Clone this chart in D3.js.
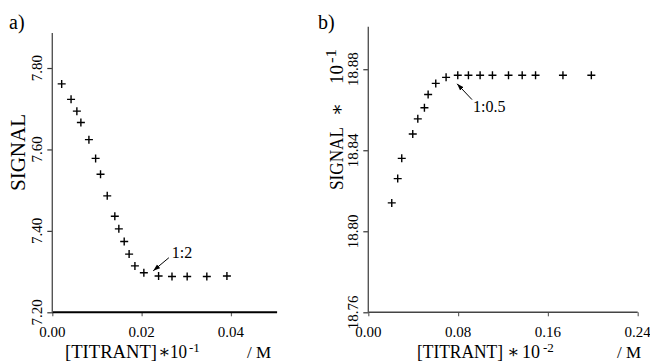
<!DOCTYPE html>
<html><head><meta charset="utf-8">
<script src="https://cdn.jsdelivr.net/npm/d3@7"></script>
<style>
body{margin:0;background:#fff}
svg{display:block}
</style>
</head><body>
<svg id="c" width="650" height="362" font-family="'Liberation Serif', 'DejaVu Serif', serif"></svg>
<script>
const FONT = "'Liberation Serif', 'DejaVu Serif', serif";
// ---- Panel a data ----
const aX = [0.0021,0.0042,0.0055,0.0064,0.0082,0.0097,0.0108,0.0123,0.0140,0.0149,0.0161,0.0172,0.0185,0.0205,0.0238,0.0268,0.0302,0.0346,0.0391];
const aY = [7.761,7.723,7.694,7.666,7.624,7.578,7.539,7.486,7.436,7.405,7.374,7.343,7.314,7.297,7.289,7.288,7.288,7.288,7.289];
const aXTicks = [0, 0.02, 0.04];
const aXTickLabels = ["0.00", "0.02", "0.04"];
const aYTicks = [7.20, 7.40, 7.60, 7.80];
const aYTickLabels = ["7.20", "7.40", "7.60", "7.80"];
const aXDomain = [0, 0.05];
const aYDomain = [7.20, 7.886];
const aNote = {text: "1:2", x: 0.0226, y: 7.302, tx: 0.0261, ty: 7.334};

// ---- Panel b data ----
const bX = [0.0209,0.0262,0.0298,0.0396,0.0441,0.0500,0.0533,0.0601,0.0693,0.0797,0.0892,0.0996,0.1106,0.1249,0.1371,0.1490,0.1734,0.1987];
const bY = [18.814,18.826,18.836,18.848,18.8555,18.861,18.8675,18.873,18.876,18.877,18.877,18.877,18.877,18.877,18.877,18.877,18.877,18.877];
const bXTicks = [0, 0.08, 0.16, 0.24];
const bXTickLabels = ["0.00", "0.08", "0.16", "0.24"];
const bYTicks = [18.76, 18.80, 18.84, 18.88];
const bYTickLabels = ["18.76", "18.80", "18.84", "18.88"];
const bXDomain = [0, 0.24];
const bYDomain = [18.76, 18.901];
const bNote = {text: "1:0.5", x: 0.0791, y: 18.8728, tx: 0.0924, ty: 18.865};

const svg = d3.select("#c");
svg.append("defs").append("marker")
  .attr("id", "ah").attr("viewBox", "0 0 10 10").attr("refX", 10).attr("refY", 5)
  .attr("markerWidth", 7).attr("markerHeight", 7).attr("markerUnits", "userSpaceOnUse")
  .attr("orient", "auto")
  .append("path").attr("d", "M0,1.5L10,5L0,8.5Z").attr("fill", "#000");

function txt(sel) { return sel.attr("font-family", FONT).attr("fill", "#000"); }

function panel(o) {
  const x = d3.scaleLinear().domain(o.xDomain).range(o.xRange);
  const y = d3.scaleLinear().domain(o.yDomain).range(o.yRange);
  const g = svg.append("g");

  // x axis
  const xa = g.append("g").attr("transform", `translate(0,${o.yRange[0]})`)
    .call(d3.axisBottom(x).tickValues(o.xTicks).tickFormat("").tickSize(4).tickSizeOuter(0));
  xa.select(".domain").remove();
  xa.selectAll(".tick line").attr("stroke", "#666").attr("stroke-width", 1.2);
  g.append("line").attr("x1", o.xRange[0]).attr("x2", o.xRange[1] + o.xExtra)
    .attr("y1", o.yRange[0]).attr("y2", o.yRange[0])
    .attr("stroke", o.xAxisColor).attr("stroke-width", o.xAxisWidth);

  // y axis
  const ya = g.append("g").attr("transform", `translate(${o.xRange[0]},0)`)
    .call(d3.axisLeft(y).tickValues(o.yTicks).tickFormat("").tickSize(5).tickSizeOuter(0));
  ya.select(".domain").remove();
  ya.selectAll(".tick line").attr("stroke", "#333").attr("stroke-width", 1.2);
  g.append("line").attr("x1", o.xRange[0]).attr("x2", o.xRange[0])
    .attr("y1", o.yRange[0]).attr("y2", o.yRange[1])
    .attr("stroke", "#555").attr("stroke-width", 1.4);

  // x tick labels
  txt(g.selectAll(".xtl").data(o.xTicks).enter().append("text"))
    .attr("x", d => x(d)).attr("y", o.yRange[0] + 25)
    .attr("text-anchor", "middle").attr("font-size", 15)
    .text((d, i) => o.xTickLabels[i]);

  // y tick labels (rotated)
  txt(g.selectAll(".ytl").data(o.yTicks).enter().append("text"))
    .attr("transform", d => `translate(${o.xRange[0] - 10},${y(d)}) rotate(-90)`)
    .attr("text-anchor", "middle").attr("font-size", 15)
    .text((d, i) => o.yTickLabels[i]);

  // points
  g.selectAll(".pt").data(o.xs).enter().append("path")
    .attr("transform", (d, i) => `translate(${x(d)},${y(o.ys[i])})`)
    .attr("d", "M-4,0H4M0,-4V4").attr("stroke", "#000").attr("stroke-width", 1.4).attr("fill", "none");

  // annotation
  g.append("line").attr("x1", x(o.note.tx)).attr("y1", y(o.note.ty))
    .attr("x2", x(o.note.x)).attr("y2", y(o.note.y))
    .attr("stroke", "#000").attr("stroke-width", 1).attr("marker-end", "url(#ah)");
  txt(g.append("text")).attr("x", x(o.note.tx) + o.noteDx).attr("y", y(o.note.ty) + o.noteDy)
    .attr("font-size", 16).text(o.note.text);

  // panel letter
  txt(g.append("text")).attr("x", o.letterX).attr("y", 29).attr("font-size", 20).text(o.letter);

  return {x, y, g};
}

panel({
  xs: aX, ys: aY, xDomain: aXDomain, yDomain: aYDomain,
  xRange: [52.3, 275.6], yRange: [312.3, 33], xExtra: 1.5,
  xTicks: aXTicks, xTickLabels: aXTickLabels, yTicks: aYTicks, yTickLabels: aYTickLabels,
  note: aNote, noteDx: 3, noteDy: 0, letter: "a)", letterX: 9,
  xAxisColor: "#000", xAxisWidth: 2
});
panel({
  xs: bX, ys: bY, xDomain: bXDomain, yDomain: bYDomain,
  xRange: [368.3, 637.7], yRange: [312.3, 26.7], xExtra: 0,
  xTicks: bXTicks, xTickLabels: bXTickLabels, yTicks: bYTicks, yTickLabels: bYTickLabels,
  note: bNote, noteDx: 1, noteDy: 12, letter: "b)", letterX: 318,
  xAxisColor: "#444", xAxisWidth: 1.5
});

// ---- axis titles ----
txt(svg.append("text")).attr("transform", "translate(25,191) rotate(-90)")
  .attr("font-size", 20).attr("textLength", 77).attr("lengthAdjust", "spacingAndGlyphs").text("SIGNAL");

function rot(xb, yb, size, s, len) {
  const t = txt(svg.append("text")).attr("transform", `translate(${xb},${yb}) rotate(-90)`)
    .attr("font-size", size).text(s);
  if (len) t.attr("textLength", len).attr("lengthAdjust", "spacingAndGlyphs");
  return t;
}
rot(343, 190, 19, "SIGNAL", 63);
rot(343, 116, 19, "\u2217");
rot(343, 84, 19, "10", 19);
rot(336, 63, 14, "-1", 14);

function hz(x0, yb, size, s, len) {
  const t = txt(svg.append("text")).attr("x", x0).attr("y", yb).attr("font-size", size).text(s);
  if (len) t.attr("textLength", len).attr("lengthAdjust", "spacingAndGlyphs");
  return t;
}
function xTitle(p) {
  hz(p.t0, 358, 18, "[TITRANT]", p.tLen);
  hz(p.s0, 358, 18, "\u2217");
  hz(p.n0, 358, 18, "10", p.nLen);
  hz(p.e0, 352, 13, p.exp);
  hz(p.u0, 358, 17, "/ M");
}
xTitle({t0: 65, tLen: 92, s0: 158, n0: 170, nLen: 17, e0: 189, exp: "-1", u0: 247});
xTitle({t0: 417, tLen: 86, s0: 507, n0: 522, nLen: 18, e0: 543, exp: "-2", u0: 617});
</script>
</body></html>
